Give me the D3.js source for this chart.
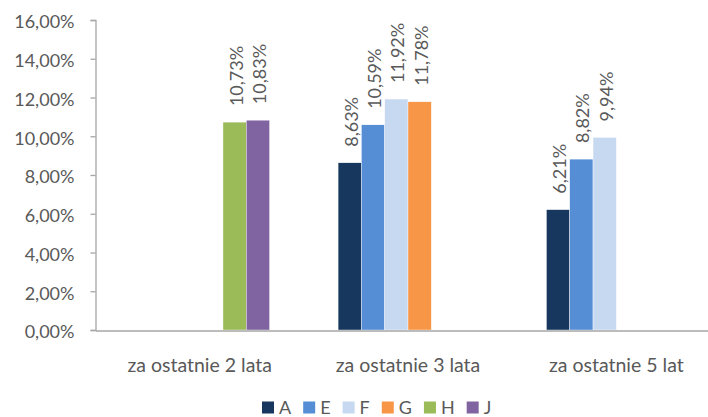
<!DOCTYPE html>
<html><head><meta charset="utf-8">
<script src="https://cdn.jsdelivr.net/npm/d3@7"></script>
<style>
html,body{margin:0;padding:0;background:#fff;}
svg{display:block;font-family:Lato, "Open Sans", sans-serif;}
</style></head>
<body><svg id="c" width="708" height="417"></svg>
<script>
const categories = ["za ostatnie 2 lata", "za ostatnie 3 lata", "za ostatnie 5 lat"];
const seriesNames = ["A", "E", "F", "G", "H", "J"];
const seriesColors = ["#17375E", "#558ED5", "#C6D9F1", "#F79646", "#9BBB59", "#8064A2"];
const valuesA = [null, 8.63, 6.21];
const valuesE = [null, 10.59, 8.82];
const valuesF = [null, 11.92, 9.94];
const valuesG = [null, 11.78, null];
const valuesH = [10.73, null, null];
const valuesJ = [10.83, null, null];
const yTicks = [0, 2, 4, 6, 8, 10, 12, 14, 16];

const seriesValues = [valuesA, valuesE, valuesF, valuesG, valuesH, valuesJ];
const fmt = v => v.toFixed(2).replace(".", ",") + "%";
const textColor = "#595959";
const axisColor = "#A6A6A6";

const svg = d3.select("#c");
const y = d3.scaleLinear().domain([0, 16]).range([330, 20]);
const x0 = d3.scaleBand().domain(categories).range([95.5, 720.5]).padding(0);
const x1 = d3.scaleBand().domain(seriesNames).range([0, x0.bandwidth()]).paddingInner(0).paddingOuter(1.47);
const color = d3.scaleOrdinal().domain(seriesNames).range(seriesColors);

// y axis
const yAxis = d3.axisLeft(y).tickValues(yTicks).tickSize(5).tickPadding(16)
  .tickFormat(d => d.toFixed(2).replace(".", ",") + "%");
const ya = svg.append("g").attr("transform", "translate(95.5,0)").call(yAxis);
ya.select(".domain").attr("stroke", axisColor).attr("stroke-width", 1.3);
ya.selectAll(".tick line").attr("stroke", axisColor).attr("stroke-width", 1.3);
ya.selectAll(".tick text").attr("fill", textColor).style("font-size", "18px")
  .style("font-family", "Lato, sans-serif").attr("dy", "0.44em");

// bars
const data = [];
categories.forEach((c, ci) => {
  seriesNames.forEach((s, si) => {
    const v = seriesValues[si][ci];
    if (v !== null) data.push({c, s, v});
  });
});

svg.append("g").selectAll("rect").data(data).join("rect")
  .attr("x", d => x0(d.c) + x1(d.s))
  .attr("y", d => y(d.v))
  .attr("width", x1.bandwidth())
  .attr("height", d => y(0) - y(d.v))
  .attr("fill", d => color(d.s))
  .attr("stroke", "#fff").attr("stroke-width", 0.4);

// x axis
const xAxis = d3.axisBottom(x0).tickSize(0).tickPadding(28);
const xa = svg.append("g").attr("transform", "translate(0,330.5)").call(xAxis);
xa.select(".domain").attr("stroke", axisColor).attr("stroke-width", 1.3);
xa.selectAll(".tick text").attr("fill", textColor).style("font-size", "19.5px")
  .style("font-family", "Lato, sans-serif");

// data labels
svg.append("g").selectAll("text").data(data).join("text")
  .attr("transform", d => `translate(${x0(d.c) + x1(d.s) + x1.bandwidth()/2 + 1.5},${y(d.v) - 16}) rotate(-90)`)
  .attr("dy", "0.36em")
  .attr("text-anchor", "start")
  .attr("fill", textColor)
  .style("font-size", "18px")
  .text(d => fmt(d.v));

// legend
const lg = svg.append("g");
let lx = 262;
seriesNames.forEach(s => {
  lg.append("rect").attr("x", lx).attr("y", 401.5).attr("width", 12).attr("height", 12).attr("fill", color(s));
  const t = lg.append("text").attr("x", lx + 17).attr("y", 413.5).attr("fill", textColor)
    .style("font-size", "18px").text(s);
  lx += 17 + t.node().getComputedTextLength() + 12;
});
</script></body></html>
